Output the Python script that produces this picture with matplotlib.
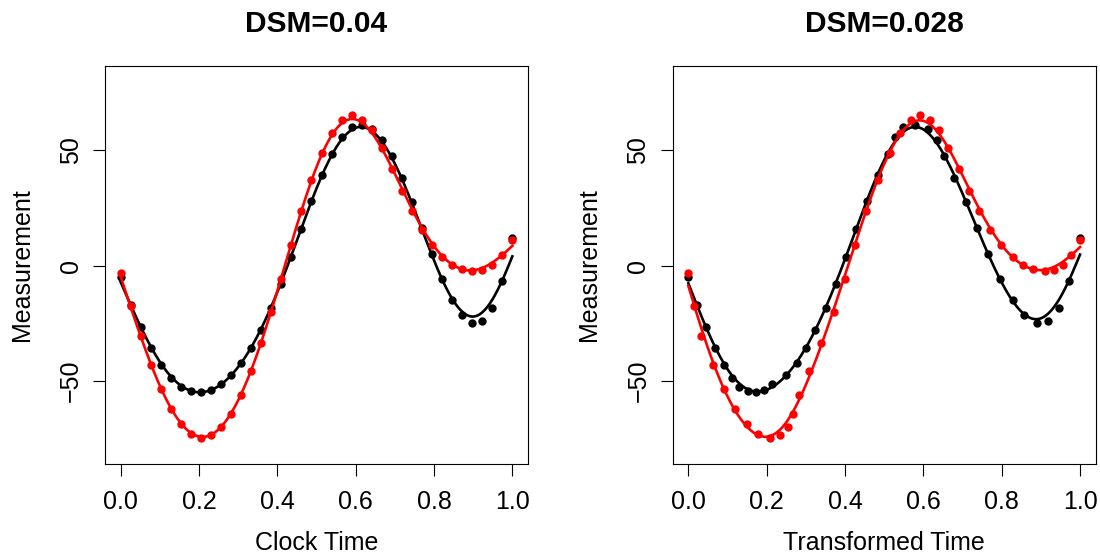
import numpy as np
import matplotlib
matplotlib.use('Agg')
import matplotlib.pyplot as plt

plt.rcParams['font.family'] = ['Liberation Sans', 'DejaVu Sans']

# measurements (black = curve 1, red = curve 2), 40 samples each
y_black = [-5.0, -17.0, -26.8, -35.9, -43.0, -48.5, -52.4, -54.3, -54.8, -53.7,
           -51.2, -47.3, -42.3, -35.5, -27.8, -18.5, -7.9, 3.6, 15.9, 27.8,
           39.0, 48.3, 55.6, 59.9, 60.7, 59.2, 54.4, 47.2, 38.0, 27.4,
           16.1, 4.9, -5.8, -14.9, -21.4, -24.8, -24.0, -18.4, -6.7, 11.8]
y_red = [-3.3, -17.3, -30.6, -42.9, -53.5, -62.1, -68.6, -73.0, -74.5, -73.5,
         -70.0, -64.3, -56.0, -45.6, -33.6, -20.1, -5.7, 9.0, 23.8, 37.2,
         48.7, 57.4, 63.0, 65.0, 63.2, 58.8, 51.0, 41.7, 32.4, 23.5,
         15.5, 8.8, 3.8, 0.4, -1.7, -2.4, -1.8, 0.2, 4.4, 11.1]

# clock time grid
t_clock = np.linspace(0, 1, 40)

# transformed (registered) times
t_black_w = [0.0, 0.0221, 0.0450, 0.0680, 0.0917, 0.1104, 0.1299, 0.1512, 0.1724, 0.1936,
             0.2148, 0.2488, 0.2785, 0.2997, 0.3234, 0.3523, 0.3778, 0.4033, 0.4288, 0.4551,
             0.4839, 0.5093, 0.5271, 0.5485, 0.5781, 0.6112, 0.6350, 0.6537, 0.6792, 0.7089,
             0.7369, 0.7650, 0.7963, 0.8276, 0.8574, 0.8897, 0.9193, 0.9473, 0.9728, 1.0]
t_red_w = [0.0, 0.0153, 0.0323, 0.0620, 0.0901, 0.1189, 0.1487, 0.1783, 0.2072, 0.2327,
           0.2547, 0.2684, 0.2827, 0.3081, 0.3397, 0.3718, 0.3998, 0.4245, 0.4525, 0.4839,
           0.5144, 0.5399, 0.5697, 0.5926, 0.6163, 0.6392, 0.6631, 0.6901, 0.7156, 0.7410,
           0.7690, 0.7988, 0.8276, 0.8541, 0.8811, 0.9109, 0.9338, 0.9559, 0.9771, 1.0]

titles = ['DSM=0.04', 'DSM=0.028']
xlabels = ['Clock Time', 'Transformed Time']


# cubic B-spline basis on [0, 1] with equally spaced knots
def bbase(x, nseg, deg=3):
    x = np.asarray(x, float)
    dx = 1.0 / nseg
    knots = dx * np.arange(-deg, nseg + deg + 1)
    xx = np.clip(x, 0, 1 - 1e-9)
    B = ((xx[:, None] >= knots[None, :-1]) & (xx[:, None] < knots[None, 1:])).astype(float)
    for k in range(1, deg + 1):
        left = (xx[:, None] - knots[None, :-k - 1]) / (knots[k:-1] - knots[:-k - 1]) * B[:, :-1]
        right = (knots[None, k + 1:] - xx[:, None]) / (knots[k + 1:] - knots[1:-k]) * B[:, 1:]
        B = left + right
    return B


# penalized spline smoother of the points
def smooth_fit(t, y, nseg=20, lam=0.6):
    B = bbase(t, nseg)
    nb = B.shape[1]
    D = np.diff(np.eye(nb), 2, axis=0)
    c = np.linalg.solve(B.T @ B + lam * D.T @ D, B.T @ np.asarray(y))
    tt = np.linspace(0, 1, 300)
    return tt, bbase(tt, nseg) @ c


fig = plt.figure(figsize=(11, 5.57), dpi=100)
ax1 = fig.add_axes([105/1100, 1-464/557, 423/1100, 398.3/557])
ax2 = fig.add_axes([672.7/1100, 1-464/557, 423/1100, 398.3/557])

panels = [(ax1, t_clock, t_clock), (ax2, t_black_w, t_red_w)]
for i, (ax, tb, tr) in enumerate(panels):
    for t, y, col in [(tb, y_black, 'black'), (tr, y_red, 'red')]:
        ax.plot(t, y, 'o', color=col, ms=5.0, mec=col)
        tt, yy = smooth_fit(t, y)
        ax.plot(tt, yy, '-', color=col, lw=1.9)
    ax.set_xlim(-0.04, 1.04)
    ax.set_ylim(-85.9, 86.5)
    ax.set_xticks([0, 0.2, 0.4, 0.6, 0.8, 1.0])
    ax.set_xticklabels(['0.0', '0.2', '0.4', '0.6', '0.8', '1.0'])
    ax.set_yticks([-50, 0, 50])
    ax.tick_params(length=8.5, width=0.8, labelsize=18, direction='out')
    ax.tick_params(axis='x', pad=10)
    ax.tick_params(axis='y', pad=7.5)
    for lab in ax.get_yticklabels():
        lab.set_rotation(90)
        lab.set_va('center')
    for s in ax.spines.values():
        s.set_linewidth(0.8)
    ax.set_title(titles[i], fontsize=21.5, fontweight='bold', pad=24)
    ax.set_xlabel(xlabels[i], fontsize=18, labelpad=12.5)
    ax.set_ylabel('Measurement', fontsize=18, labelpad=18)

fig.savefig('out.png', dpi=100)
